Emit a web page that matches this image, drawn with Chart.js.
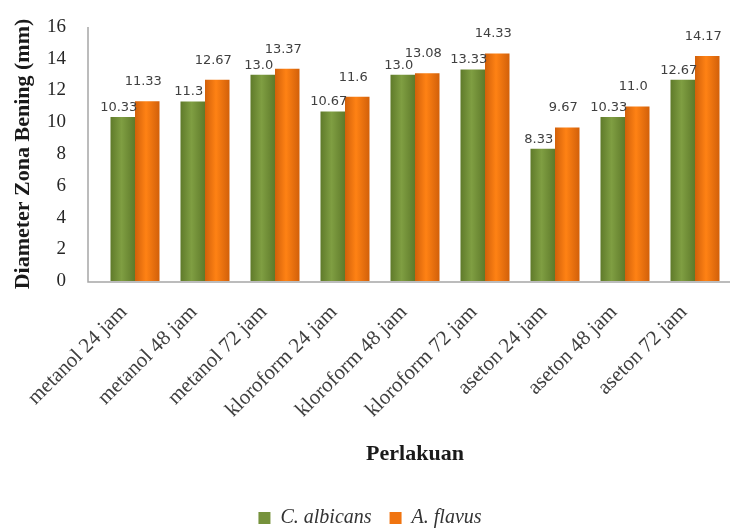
<!DOCTYPE html>
<html>
<head>
<meta charset="utf-8">
<script src="https://cdn.jsdelivr.net/npm/chart.js@4/dist/chart.umd.min.js"></script>
<style>
  body { margin: 0; background: #fff; }
</style>
</head>
<body>
<canvas id="chartBar" width="733" height="530"></canvas>
<script>
// categories
const perlakuan = ["metanol 24 jam", "metanol 48 jam", "metanol 72 jam",
  "kloroform 24 jam", "kloroform 48 jam", "kloroform 72 jam",
  "aseton 24 jam", "aseton 48 jam", "aseton 72 jam"];

// series values (mm)
const albicans = [10.33, 11.3, 13.0, 10.67, 13.0, 13.33, 8.33, 10.33, 12.67];
const flavus = [11.33, 12.67, 13.37, 11.6, 13.08, 14.33, 9.67, 11.0, 14.17];

// value labels as printed above the bars
const albicansText = ["10.33", "11.3", "13.0", "10.67", "13.0", "13.33", "8.33", "10.33", "12.67"];
const flavusText = ["11.33", "12.67", "13.37", "11.6", "13.08", "14.33", "9.67", "11.0", "14.17"];

// y ticks
const yMin = 0, yMax = 16, yStep = 2;

const serif = "'Liberation Serif', 'DejaVu Serif', serif";
const legendColors = ["#76923c", "#f07410"];
const CAT_PCT = 0.7;

// cylinder-like shading across each bar
function barShade(edge, mid) {
  return (c) => {
    const chart = c.chart;
    const xs = chart.scales.x;
    if (!xs || c.dataIndex === undefined || !chart.chartArea) return mid;
    const center = xs.getPixelForValue(c.dataIndex);
    const half = xs.width / chart.data.labels.length * CAT_PCT / 2;
    const left = c.datasetIndex === 0 ? center - half : center;
    const g = chart.ctx.createLinearGradient(left, 0, left + half, 0);
    g.addColorStop(0, edge);
    g.addColorStop(0.45, mid);
    g.addColorStop(1, edge);
    return g;
  };
}

// draw the value labels and the axis lines
const barLabels = {
  id: "barLabels",
  afterDatasetsDraw(chart) {
    const ctx = chart.ctx;
    const area = chart.chartArea;
    ctx.save();
    // axis lines
    ctx.strokeStyle = "#a6a6a6";
    ctx.lineWidth = 1.5;
    ctx.beginPath();
    ctx.moveTo(area.left - 12, area.top);
    ctx.lineTo(area.left - 12, area.bottom + 1);
    ctx.lineTo(area.right, area.bottom + 1);
    ctx.stroke();

    ctx.font = "13px 'DejaVu Sans', sans-serif";
    ctx.fillStyle = "#404040";
    ctx.textAlign = "center";
    ctx.textBaseline = "bottom";
    chart.data.datasets.forEach((ds, i) => {
      const meta = chart.getDatasetMeta(i);
      meta.data.forEach((bar, j) => {
        ctx.fillText(ds.valueText[j], bar.x - 4, bar.y - ds.labelGap);
      });
    });
    ctx.restore();
  }
};

const dataBarChart = {
  labels: perlakuan,
  datasets: [
    {
      label: "C. albicans",
      backgroundColor: barShade("#5f7a2a", "#7f9e42"),
      borderWidth: 0,
      data: albicans,
      valueText: albicansText,
      labelGap: 3,
    },
    {
      label: "A. flavus",
      backgroundColor: barShade("#d2600a", "#ff8214"),
      borderWidth: 0,
      data: flavus,
      valueText: flavusText,
      labelGap: 13,
    },
  ],
};

const configBarChart = {
  type: "bar",
  data: dataBarChart,
  plugins: [barLabels],
  options: {
    responsive: false,
    animation: false,
    layout: { padding: { top: 27, right: 3, left: 10, bottom: -8 } },
    datasets: { bar: { categoryPercentage: CAT_PCT, barPercentage: 1.0 } },
    plugins: {
      tooltip: { enabled: false },
      legend: {
        position: "bottom",
        labels: {
          boxWidth: 12,
          boxHeight: 12,
          padding: 18,
          color: "#333",
          font: { family: serif, size: 20, style: "italic" },
          generateLabels: (chart) =>
            Chart.defaults.plugins.legend.labels.generateLabels(chart)
              .map((item, i) => ({ ...item, fillStyle: legendColors[i], strokeStyle: legendColors[i], lineWidth: 0 })),
        },
      },
    },
    scales: {
      x: {
        grid: { display: false },
        border: { display: false },
        afterFit: (scale) => { scale.paddingLeft = 0; },
        ticks: {
          color: "#404040",
          font: { family: serif, size: 21 },
          minRotation: 45,
          maxRotation: 45,
          padding: 11,
          labelOffset: -11,
        },
        title: {
          display: true,
          text: "Perlakuan",
          color: "#1a1a1a",
          font: { family: serif, size: 22, weight: "bold" },
          padding: { top: 8, bottom: 22 },
        },
      },
      y: {
        min: yMin,
        max: yMax,
        grid: { display: false, drawTicks: false },
        border: { display: false },
        afterFit: (scale) => {
          scale.width = 90;
          scale.paddingTop = 0;
          scale.paddingBottom = 0;
        },
        ticks: {
          stepSize: yStep,
          color: "#262626",
          font: { family: serif, size: 19 },
          padding: 34,
        },
        title: {
          display: true,
          text: "Diameter Zona Bening (mm)",
          color: "#1a1a1a",
          font: { family: serif, size: 22, weight: "bold" },
          padding: { top: 0, bottom: 8 },
        },
      },
    },
  },
};

let chartStatus = Chart.getChart("chartBar");
if (chartStatus != undefined) {
  chartStatus.destroy();
}
var chartBar = new Chart(document.getElementById("chartBar"), configBarChart);
</script>
</body>
</html>
